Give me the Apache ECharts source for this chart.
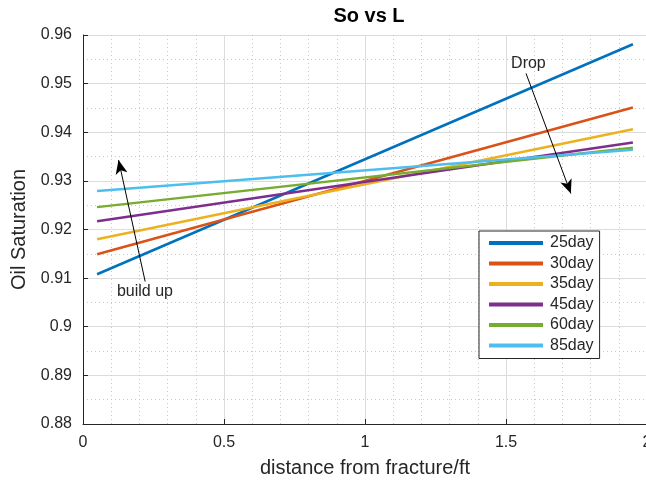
<!DOCTYPE html>
<html>
<head>
<meta charset="utf-8">
<script src="https://cdn.jsdelivr.net/npm/echarts@6/dist/echarts.min.js"></script>
<style>
html,body{margin:0;padding:0;background:#fff;}
#c{width:646px;height:480px;}
</style>
</head>
<body>
<div id="c"></div>
<script>
// Data
const xStart = 0.05, xEnd = 1.95;
const seriesNames = ['25day', '30day', '35day', '45day', '60day', '85day'];
const startValues = [0.9108, 0.9149, 0.9180, 0.9217, 0.9246, 0.9279];
const endValues   = [0.9581, 0.9451, 0.9406, 0.9379, 0.9368, 0.9364];
const colors = ['#0072BD', '#D95319', '#EDB120', '#7E2F8E', '#77AC30', '#4DBEEE'];
// annotations (data coordinates)
const dropArrow = [[1.571, 0.9521], [1.730, 0.9274]];
const buildArrow = [[0.2205, 0.9093], [0.126, 0.9343]];
const dropText = [1.518, 0.9542];
const buildText = [0.1203, 0.9072];

const FONT = 'Liberation Sans, Arial, Helvetica, sans-serif';
const TXT = '#262626';

const series = seriesNames.map((n, i) => ({
  name: n,
  type: 'line',
  data: [[xStart, startValues[i]], [xEnd, endValues[i]]],
  showSymbol: false,
  symbol: 'none',
  lineStyle: { color: colors[i], width: 2.5 },
  itemStyle: { color: colors[i] },
  silent: true,
  z: 3
}));

series.push({
  name: 'annot',
  type: 'line',
  data: [],
  silent: true,
  z: 5,
  markLine: {
    silent: true,
    symbol: ['none', 'arrow'],
    symbolSize: [9, 14],
    lineStyle: { color: '#000', width: 1, type: 'solid' },
    label: { show: false },
    data: [
      [{ coord: dropArrow[0] }, { coord: dropArrow[1] }],
      [{ coord: buildArrow[0] }, { coord: buildArrow[1] }]
    ]
  },
  markPoint: {
    silent: true,
    symbol: 'circle',
    symbolSize: 0,
    label: {
      show: true, position: 'inside', align: 'left', verticalAlign: 'middle',
      color: TXT, fontFamily: FONT, fontSize: 16
    },
    data: [
      { coord: dropText, label: { formatter: 'Drop' } },
      { coord: buildText, label: { formatter: 'build up' } }
    ]
  }
});

const chart = echarts.init(document.getElementById('c'), null, { renderer: 'canvas' });
chart.setOption({
  animation: false,
  backgroundColor: '#fff',
  color: colors,
  title: {
    text: 'So vs L',
    left: 364, top: 1, textAlign: 'center',
    textStyle: { fontFamily: FONT, fontSize: 20, fontWeight: 'bold', color: '#000' }
  },
  grid: { left: 83, top: 35, width: 564, height: 389, containLabel: false, outerBoundsMode: 'none' },
  legend: {
    data: seriesNames,
    left: 479, top: 231,
    orient: 'vertical',
    backgroundColor: '#fff',
    borderColor: TXT, borderWidth: 1,
    padding: [4, 6, 5, 10],
    itemGap: 4.5,
    itemWidth: 54, itemHeight: 4,
    icon: 'rect',
    textStyle: { fontFamily: FONT, fontSize: 16, color: TXT, lineHeight: 16, padding: [0, 0, 0, 2] },
    selectedMode: false
  },
  xAxis: {
    type: 'value', min: 0, max: 2, interval: 0.5,
    name: 'distance from fracture/ft', nameLocation: 'middle', nameGap: 34,
    nameTextStyle: { fontFamily: FONT, fontSize: 20, color: TXT },
    axisLine: { show: true, lineStyle: { color: TXT, width: 1 } },
    axisTick: { show: true, inside: true, length: 5, lineStyle: { color: TXT } },
    minorTick: { show: false, splitNumber: 5 },
    axisLabel: { fontFamily: FONT, fontSize: 16, color: TXT, margin: 11,
      formatter: v => String(+v.toFixed(2)), showMaxLabel: true },
    splitLine: { show: true, lineStyle: { color: '#dcdcdc', width: 1 } },
    minorSplitLine: { show: true, lineStyle: { color: '#c8c8c8', width: 1, type: [1, 3] } }
  },
  yAxis: {
    type: 'value', min: 0.88, max: 0.96, interval: 0.01,
    name: 'Oil Saturation', nameLocation: 'middle', nameGap: 50,
    nameTextStyle: { fontFamily: FONT, fontSize: 20, color: TXT },
    axisLine: { show: true, lineStyle: { color: TXT, width: 1 } },
    axisTick: { show: true, inside: true, length: 5, lineStyle: { color: TXT } },
    minorTick: { show: false, splitNumber: 2 },
    axisLabel: { fontFamily: FONT, fontSize: 16, color: TXT, margin: 11,
      formatter: v => String(+v.toFixed(2)) },
    splitLine: { show: true, lineStyle: { color: '#dcdcdc', width: 1 } },
    minorSplitLine: { show: true, lineStyle: { color: '#c8c8c8', width: 1, type: [1, 3] } }
  },
  series: series
});
</script>
</body>
</html>
